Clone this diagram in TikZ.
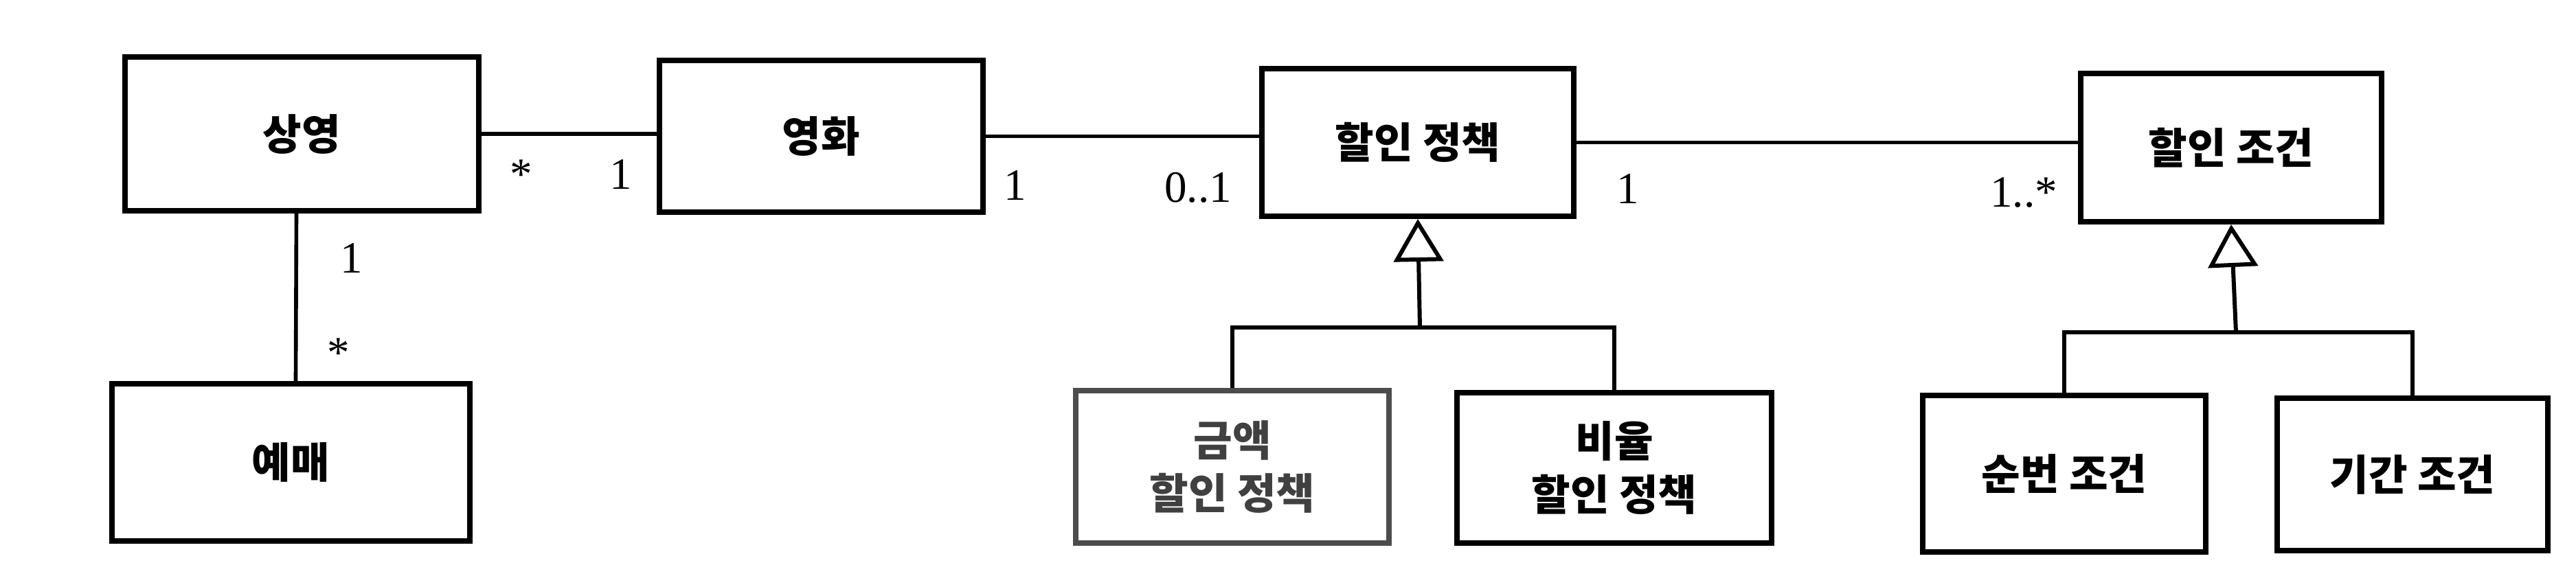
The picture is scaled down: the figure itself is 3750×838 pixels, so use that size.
\documentclass[tikz,border=0pt]{standalone}
\usepackage{fontspec}
\newfontfamily\kr{Noto Sans CJK KR}
\newfontfamily\numf{Liberation Serif}
\usetikzlibrary{arrows.meta}
\begin{document}
\begin{tikzpicture}[x=0.01cm,y=-0.01cm,
  cls/.style={draw, line width=2.2pt, fill=white, align=center, inner sep=0pt,
    font=\kr\bfseries\fontsize{17.5}{22}\selectfont},
  faded/.style={draw=black!70, text=black!75},
  conn/.style={line width=1.6pt},
  gen/.style={line width=1.7pt, -{Triangle[open, length=0.62cm, width=0.72cm]}},
  mult/.style={font=\numf\fontsize{18.5}{20}\selectfont, inner sep=0pt, anchor=base}]
\useasboundingbox (0,0) rectangle (3750,838);
% classes
\node[cls, minimum width=5.15cm, minimum height=2.24cm] (scr) at (439.5,195) {상영};
\node[cls, minimum width=4.71cm, minimum height=2.21cm] (mov) at (1195.5,198.5) {영화};
\node[cls, minimum width=5.21cm, minimum height=2.29cm] (res) at (423.5,673.5) {예매};
\node[cls, minimum width=4.54cm, minimum height=2.15cm] (pol) at (2064,207.5) {할인 정책};
\node[cls, faded, minimum width=4.56cm, minimum height=2.22cm] (amt) at (1794,680) {금액\\할인 정책};
\node[cls, minimum width=4.58cm, minimum height=2.19cm] (pct) at (2350,681.5) {비율\\할인 정책};
\node[cls, minimum width=4.38cm, minimum height=2.16cm] (cnd) at (3248,215) {할인 조건};
\node[cls, minimum width=4.12cm, minimum height=2.28cm] (seq) at (3005,690) {순번 조건};
\node[cls, minimum width=3.94cm, minimum height=2.22cm] (per) at (3512,691) {기간 조건};
% associations
\draw[conn] (scr.east) -- (scr.east -| mov.west);
\draw[conn] (mov.east) -- (mov.east -| pol.west);
\draw[conn] (pol.east) -- (pol.east -| cnd.west);
\draw[conn] ([xshift=-0.08cm]scr.south) -- ([xshift=0.07cm]res.north);
% generalizations
\coordinate (j1) at (2067,477);
\coordinate (j2) at (3255,484);
\draw[conn] (amt.north) |- (j1) -| (pct.north);
\draw[gen] (j1) -- (pol.south);
\draw[conn] (seq.north) |- (j2) -| (per.north);
\draw[gen] (j2) -- (cnd.south);
% multiplicities
\node[mult] (m1) at (759,275) {*};
\node[mult] (m2) at (904,275) {1};
\node[mult] (m3) at (512,397) {1};
\node[mult] (m4) at (493,535) {*};
\node[mult] (m5) at (1478,291) {1};
\node[mult] (m6) at (1744,294) {0..1};
\node[mult] (m7) at (2370,296) {1};
\node[mult] (m8) at (2946,301) {1..*};
\end{tikzpicture}
\end{document}
